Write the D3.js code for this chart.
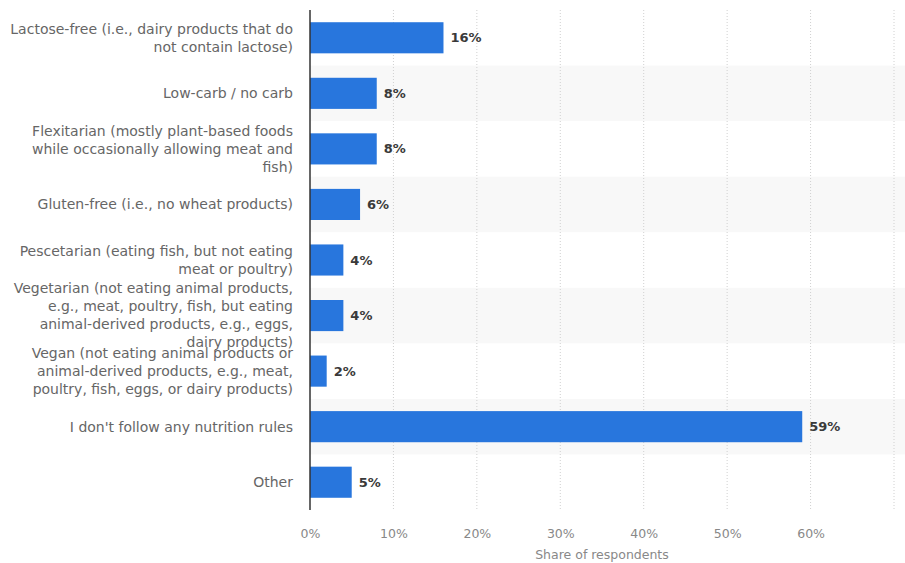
<!DOCTYPE html>
<html><head><meta charset="utf-8">
<script src="https://cdn.jsdelivr.net/npm/d3@7"></script>
<style>body{margin:0;background:#fff}</style>
</head><body><svg id="c" width="905" height="563"></svg>
<script>
const categories = [
  "Lactose-free (i.e., dairy products that do\nnot contain lactose)",
  "Low-carb / no carb",
  "Flexitarian (mostly plant-based foods\nwhile occasionally allowing meat and\nfish)",
  "Gluten-free (i.e., no wheat products)",
  "Pescetarian (eating fish, but not eating\nmeat or poultry)",
  "Vegetarian (not eating animal products,\ne.g., meat, poultry, fish, but eating\nanimal-derived products, e.g., eggs,\ndairy products)",
  "Vegan (not eating animal products or\nanimal-derived products, e.g., meat,\npoultry, fish, eggs, or dairy products)",
  "I don't follow any nutrition rules",
  "Other"
];
const values = [16, 8, 8, 6, 4, 4, 2, 59, 5];
const xTicks = [0, 10, 20, 30, 40, 50, 60, 70];
const xTitle = "Share of respondents";

(function () {
const svg = d3.select("#c");
const mLeft = 310, mRight = 894, mTop = 10, mBottom = 510;
const x = d3.scaleLinear().domain([0, 70]).range([mLeft, mRight]);
const y = d3.scaleBand().domain(categories).range([mTop, mBottom]).paddingInner(0.44).paddingOuter(0.22);
const yRow = d3.scaleBand().domain(categories).range([mTop, mBottom]);

// alternating row shading
svg.append("g").selectAll("rect").data(categories.filter((d, i) => i % 2 === 1)).join("rect")
  .attr("x", mLeft).attr("width", mRight - mLeft + 11)
  .attr("y", d => yRow(d)).attr("height", yRow.bandwidth())
  .attr("fill", "#f8f8f8");

// gridlines
svg.append("g").selectAll("line").data(xTicks.slice(1)).join("line")
  .attr("x1", d => x(d)).attr("x2", d => x(d))
  .attr("y1", mTop).attr("y2", mBottom)
  .attr("stroke", "#d0d0d0").attr("stroke-width", 1).attr("stroke-dasharray", "1,2");

// bars
svg.append("g").selectAll("rect").data(values).join("rect")
  .attr("x", x(0)).attr("y", (d, i) => y(categories[i]))
  .attr("width", d => x(d) - x(0)).attr("height", y.bandwidth())
  .attr("fill", "#2876dd");

// value labels
svg.append("g").selectAll("text").data(values).join("text")
  .attr("x", d => x(d) + 7).attr("y", (d, i) => y(categories[i]) + y.bandwidth() / 2)
  .attr("dy", "0.35em")
  .attr("font-family", "DejaVu Sans").attr("font-size", 13).attr("font-weight", "bold")
  .attr("fill", "#3a3a3a").text(d => d + "%");

// category labels
const lab = svg.append("g").selectAll("text").data(categories).join("text")
  .attr("text-anchor", "end").attr("font-family", "DejaVu Sans").attr("font-size", 14)
  .attr("fill", "#666");
lab.each(function(d) {
  const lines = d.split("\n");
  const cy = yRow(d) + yRow.bandwidth() / 2;
  const lh = 18;
  const t = d3.select(this);
  lines.forEach((ln, k) => {
    t.append("tspan").attr("x", 293)
      .attr("y", cy + (k - (lines.length - 1) / 2) * lh)
      .attr("dy", "0.35em").text(ln);
  });
});

// axis line
svg.append("line").attr("x1", mLeft).attr("x2", mLeft).attr("y1", mTop).attr("y2", mBottom)
  .attr("stroke", "#333").attr("stroke-width", 1.5);

// x tick labels
const xAxis = d3.axisBottom(x).tickValues(xTicks.slice(0, 7)).tickFormat(d => d + "%").tickSize(0).tickPadding(0);
const ax = svg.append("g").attr("transform", `translate(0,${mBottom + 19})`).call(xAxis);
ax.select(".domain").remove();
ax.selectAll("text").attr("font-family", "DejaVu Sans").attr("font-size", 12.5).attr("fill", "#888");

svg.append("text").attr("x", (mLeft + mRight) / 2).attr("y", 559)
  .attr("text-anchor", "middle").attr("font-family", "DejaVu Sans").attr("font-size", 12.5)
  .attr("fill", "#888").text(xTitle);
})();
</script></body></html>
